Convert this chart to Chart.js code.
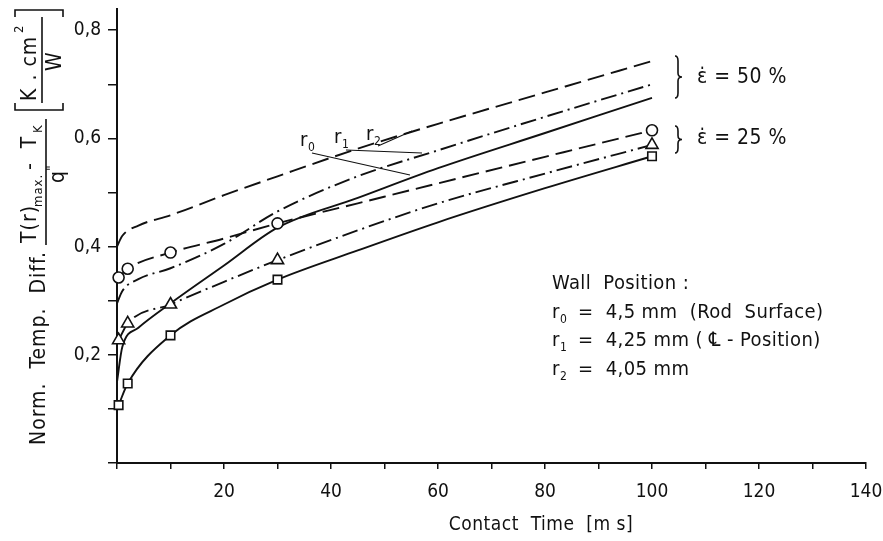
<!DOCTYPE html>
<html>
<head>
<meta charset="utf-8">
<script src="https://cdn.jsdelivr.net/npm/chart.js@4.4.1/dist/chart.umd.min.js"></script>
<style>
  html, body { margin: 0; padding: 0; background: #fff; }
  #wrap { width: 883px; height: 541px; position: relative; }
</style>
</head>
<body>
<div id="wrap"><canvas id="mainChart"></canvas></div>
<script>
// Contact time (ms) for the curves without markers (strain rate 50 %)
const timeCurve50 = [0, 1, 4, 10, 20, 30, 45, 60, 80, 100];
const r2Eps50 = [0.40, 0.42, 0.439, 0.458, 0.495, 0.53, 0.581, 0.627, 0.685, 0.743];
const r1Eps50 = [0.295, 0.318, 0.34, 0.36, 0.405, 0.465, 0.53, 0.578, 0.64, 0.70];
const r0Eps50 = [0.15, 0.215, 0.25, 0.295, 0.365, 0.435, 0.49, 0.545, 0.61, 0.675];

// Curves for strain rate 25 %
const timeCurve25 = [0.3, 2, 10, 20, 30, 45, 60, 80, 100];
const r2Eps25 = [0.343, 0.359, 0.389, 0.415, 0.443, 0.48, 0.517, 0.566, 0.615];
const r1Eps25 = [0.227, 0.258, 0.293, 0.335, 0.375, 0.43, 0.48, 0.535, 0.588];
const r0Eps25 = [0.107, 0.147, 0.236, 0.293, 0.339, 0.393, 0.445, 0.508, 0.567];

// Measured points (markers)
const timeMeasured = [0.3, 2, 10, 30, 100];
const circleValues = [0.343, 0.359, 0.389, 0.443, 0.615];
const triangleValues = [0.227, 0.258, 0.293, 0.375, 0.588];
const squareValues = [0.107, 0.147, 0.236, 0.339, 0.567];

// Axis ticks
const xTickValues = [0, 10, 20, 30, 40, 50, 60, 70, 80, 90, 100, 110, 120, 130, 140];
const xTickLabels = ['', '', '20', '', '40', '', '60', '', '80', '', '100', '', '120', '', '140'];
const yTickValues = [0, 0.1, 0.2, 0.3, 0.4, 0.5, 0.6, 0.7, 0.8];
const yTickLabels = ['', '', '0,2', '', '0,4', '', '0,6', '', '0,8'];

const fontFamily = '"DejaVu Sans Condensed", "Liberation Sans Narrow", "Roboto", sans-serif';
const ink = '#111';

function toPoints(xs, ys) {
    return xs.map((x, i) => ({ x: x, y: ys[i] }));
}

function curve(xs, ys, dash) {
    return {
        data: toPoints(xs, ys),
        borderColor: ink,
        borderWidth: 1.9,
        borderDash: dash,
        pointRadius: 0,
        cubicInterpolationMode: 'monotone',
        clip: false,
        order: 2
    };
}

function markers(ys, style, radius) {
    return {
        data: toPoints(timeMeasured, ys),
        showLine: false,
        pointStyle: style,
        pointRadius: radius,
        pointBackgroundColor: '#fff',
        pointBorderColor: ink,
        pointBorderWidth: 1.6,
        clip: false,
        order: 1
    };
}

const dashLong = [17, 7];
const dashDot = [16, 5, 2, 5];

// Texte und Hilfslinien rund um das Diagramm
const annotationText = {
    id: 'annotationText',
    afterDraw(chart) {
        const ctx = chart.ctx;
        ctx.save();
        ctx.fillStyle = ink;
        ctx.strokeStyle = ink;
        ctx.textBaseline = 'alphabetic';

        // x-axis title
        ctx.font = '19px ' + fontFamily;
        ctx.textAlign = 'center';
        ctx.letterSpacing = '0.5px';
        ctx.fillText('Contact  Time  [m s]', 541, 530);

        // y-axis title (rotated)
        ctx.save();
        ctx.translate(0, 463);
        ctx.rotate(-Math.PI / 2);
        ctx.textAlign = 'left';
        ctx.letterSpacing = '1px';
        ctx.font = '21px ' + fontFamily;
        ctx.fillText('Norm.  Temp.  Diff.', 18, 45);
        // fraction numerator
        ctx.fillText('T(r)', 220, 36);
        ctx.font = '13px ' + fontFamily;
        ctx.fillText('max.', 256, 42);
        ctx.font = '21px ' + fontFamily;
        ctx.fillText('-  T', 293, 36);
        ctx.font = '13px ' + fontFamily;
        ctx.fillText('K', 330, 42);
        ctx.lineWidth = 1.6;
        ctx.beginPath();
        ctx.moveTo(218, 46);
        ctx.lineTo(344, 46);
        ctx.stroke();
        ctx.font = '21px ' + fontFamily;
        ctx.fillText('q', 280, 64);
        ctx.font = '14px ' + fontFamily;
        ctx.fillText('"', 292, 56);
        // unit bracket
        ctx.beginPath();
        ctx.moveTo(360, 15); ctx.lineTo(353, 15); ctx.lineTo(353, 63); ctx.lineTo(360, 63);
        ctx.moveTo(446, 15); ctx.lineTo(453, 15); ctx.lineTo(453, 63); ctx.lineTo(446, 63);
        ctx.stroke();
        ctx.font = '21px ' + fontFamily;
        ctx.fillText('K . cm', 362, 36);
        ctx.font = '13px ' + fontFamily;
        ctx.fillText('2', 430, 23);
        ctx.beginPath();
        ctx.moveTo(360, 42);
        ctx.lineTo(446, 42);
        ctx.stroke();
        ctx.font = '21px ' + fontFamily;
        ctx.fillText('W', 392, 61);
        ctx.restore();

        // strain-rate labels with braces
        function brace(x, y0, y1) {
            const ym = (y0 + y1) / 2;
            ctx.lineWidth = 1.6;
            ctx.beginPath();
            ctx.moveTo(x - 3, y0);
            ctx.quadraticCurveTo(x, y0, x, y0 + 5);
            ctx.lineTo(x, ym - 4);
            ctx.quadraticCurveTo(x, ym, x + 4, ym);
            ctx.quadraticCurveTo(x, ym, x, ym + 4);
            ctx.lineTo(x, y1 - 5);
            ctx.quadraticCurveTo(x, y1, x - 3, y1);
            ctx.stroke();
        }
        brace(678, 56, 98);
        brace(678, 126, 153);
        ctx.textAlign = 'left';
        ctx.letterSpacing = '0.5px';
        ctx.font = '21px ' + fontFamily;
        ctx.fillText('\u03B5\u0307 = 50 %', 697, 83);
        ctx.fillText('\u03B5\u0307 = 25 %', 697, 144);

        // wall position legend
        ctx.letterSpacing = '0.4px';
        ctx.font = '20px ' + fontFamily;
        ctx.fillText('Wall  Position :', 552, 289);
        const rows = [
            ['0', '=  4,5 mm  (Rod  Surface)', 318],
            ['1', '=  4,25 mm ( \u2104 - Position)', 346],
            ['2', '=  4,05 mm', 375]
        ];
        rows.forEach(r => {
            ctx.font = '20px ' + fontFamily;
            ctx.fillText('r', 552, r[2]);
            ctx.fillText(r[1], 578, r[2]);
            ctx.font = '12px ' + fontFamily;
            ctx.fillText(r[0], 560, r[2] + 5);
        });

        // r labels with leader lines
        ctx.letterSpacing = '0px';
        const tags = [['0', 300, 146], ['1', 334, 143], ['2', 366, 140]];
        tags.forEach(t => {
            ctx.font = '20px ' + fontFamily;
            ctx.fillText('r', t[1], t[2]);
            ctx.font = '12px ' + fontFamily;
            ctx.fillText(t[0], t[1] + 8, t[2] + 5);
        });
        ctx.lineWidth = 1.1;
        ctx.beginPath();
        ctx.moveTo(312, 153); ctx.lineTo(410, 175);
        ctx.moveTo(346, 150); ctx.lineTo(422, 153);
        ctx.moveTo(378, 146); ctx.lineTo(412, 131);
        ctx.stroke();
        ctx.restore();
    }
};

const ctx = document.getElementById('mainChart').getContext('2d');
const mainChart = new Chart(ctx, {
    type: 'line',
    data: {
        datasets: [
            markers(circleValues, 'circle', 5.5),
            markers(triangleValues, 'triangle', 7),
            markers(squareValues, 'rect', 6),
            curve(timeCurve50, r2Eps50, dashLong),
            curve(timeCurve50, r1Eps50, dashDot),
            curve(timeCurve50, r0Eps50, []),
            curve(timeCurve25, r2Eps25, dashLong),
            curve(timeCurve25, r1Eps25, dashDot),
            curve(timeCurve25, r0Eps25, [])
        ]
    },
    options: {
        responsive: true,
        maintainAspectRatio: false,
        animation: false,
        devicePixelRatio: 1,
        layout: { padding: { top: 7, right: 17, left: 0, bottom: 0 } },
        plugins: {
            legend: { display: false },
            tooltip: { enabled: false }
        },
        scales: {
            x: {
                type: 'linear',
                min: 0,
                max: 140,
                afterBuildTicks: scale => { scale.ticks = xTickValues.map(v => ({ value: v })); },
                afterFit: scale => {
                    scale.height = 78;
                    scale.paddingLeft = 0;
                    scale.paddingRight = 0;
                },
                ticks: {
                    autoSkip: false,
                    maxRotation: 0,
                    padding: 12,
                    color: ink,
                    font: { family: fontFamily, size: 19 },
                    callback: (v) => xTickLabels[xTickValues.indexOf(v)] || ''
                },
                grid: { drawOnChartArea: false, drawTicks: true, tickLength: 6, color: ink, lineWidth: 1.5 },
                border: { color: ink, width: 2 }
            },
            y: {
                type: 'linear',
                min: 0,
                max: 0.84,
                afterBuildTicks: scale => { scale.ticks = yTickValues.map(v => ({ value: v })); },
                afterFit: scale => {
                    scale.width = 117;
                    scale.paddingTop = 0;
                    scale.paddingBottom = 0;
                },
                ticks: {
                    padding: 7,
                    color: ink,
                    font: { family: fontFamily, size: 19 },
                    callback: (v) => {
                        const i = yTickValues.findIndex(t => Math.abs(t - v) < 1e-6);
                        return i >= 0 ? yTickLabels[i] : '';
                    }
                },
                grid: { drawOnChartArea: false, drawTicks: true, tickLength: 9, color: ink, lineWidth: 1.5 },
                border: { color: ink, width: 2 }
            }
        }
    },
    plugins: [annotationText]
});
</script>
</body>
</html>
